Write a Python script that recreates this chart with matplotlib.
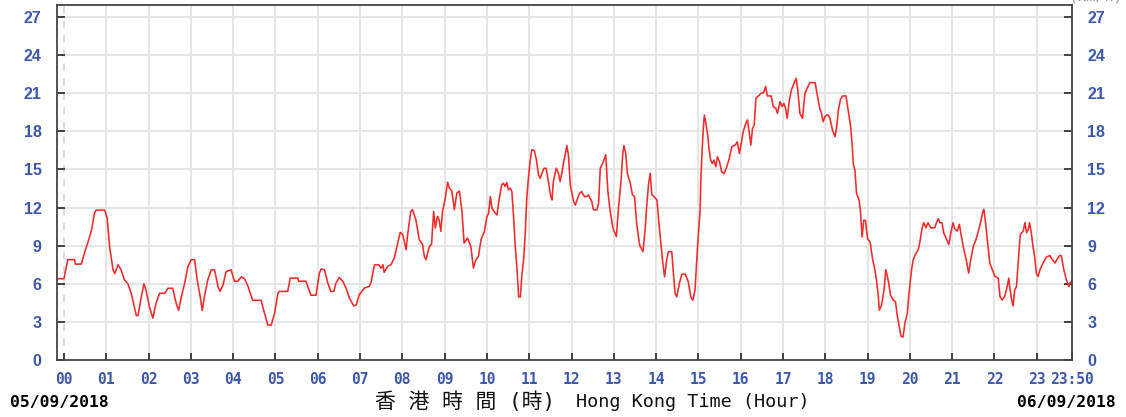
import matplotlib
matplotlib.use("Agg")
import matplotlib.pyplot as plt

# 10-min mean wind speed, Hong Kong, 05/09/2018 00:00 - 23:50
hours = [
    -0.17, 0.0, 0.09, 0.25, 0.27, 0.41, 0.49, 0.57, 0.65, 0.72, 0.76, 0.96, 1.02, 1.08, 1.16, 1.20,
    1.28, 1.35, 1.43, 1.51, 1.59, 1.71, 1.75, 1.83, 1.89, 1.94, 2.02, 2.10, 2.18, 2.26, 2.38, 2.46,
    2.57, 2.65, 2.71, 2.77, 2.85, 2.93, 3.01, 3.09, 3.15, 3.22, 3.27, 3.32, 3.40, 3.48, 3.56, 3.64,
    3.69, 3.76, 3.83, 3.95, 4.03, 4.11, 4.19, 4.27, 4.35, 4.46, 4.66, 4.74, 4.82, 4.90, 4.98,
    5.06, 5.09, 5.29, 5.35, 5.53, 5.55, 5.72, 5.84, 5.96, 6.04, 6.08, 6.16, 6.24, 6.31, 6.38, 6.43,
    6.51, 6.59, 6.67, 6.75, 6.85, 6.91, 6.98, 7.10, 7.22, 7.26, 7.34, 7.44, 7.50, 7.54, 7.57, 7.65,
    7.73, 7.81, 7.89, 7.95, 8.01, 8.09, 8.13, 8.20, 8.24, 8.32, 8.40, 8.48, 8.52, 8.56, 8.64, 8.69,
    8.74, 8.78, 8.83, 8.87, 8.91, 8.95, 9.01, 9.07, 9.11, 9.17, 9.23, 9.29, 9.35, 9.41, 9.46, 9.54,
    9.62, 9.68, 9.74, 9.80, 9.86, 9.94,
    10.0, 10.04, 10.08, 10.12, 10.20, 10.24, 10.28, 10.35, 10.39, 10.43, 10.47, 10.51, 10.55, 10.59,
    10.63, 10.67, 10.71, 10.75, 10.79, 10.83, 10.87, 10.91, 10.94, 10.98, 11.02, 11.06, 11.12, 11.17,
    11.22, 11.26, 11.30, 11.35, 11.40, 11.46, 11.51, 11.54, 11.57, 11.64, 11.69, 11.73, 11.77, 11.81,
    11.85, 11.89, 11.93, 11.97, 12.05, 12.09, 12.13, 12.19, 12.24, 12.30, 12.36, 12.40, 12.48, 12.52,
    12.60, 12.64, 12.68, 12.74, 12.81, 12.86, 12.91, 12.98, 13.06, 13.11, 13.17, 13.21, 13.24, 13.28,
    13.32, 13.39, 13.44, 13.49, 13.54, 13.61, 13.69, 13.74, 13.78, 13.82, 13.86, 13.90, 13.95, 14.02,
    14.07, 14.12, 14.16, 14.20, 14.25, 14.29, 14.37, 14.41, 14.45, 14.49, 14.55, 14.61, 14.69, 14.76,
    14.82, 14.87, 14.92, 14.98,
    15.04, 15.06, 15.09, 15.12, 15.14, 15.17, 15.22, 15.25, 15.29, 15.33, 15.37, 15.41, 15.45, 15.50,
    15.55, 15.61, 15.67, 15.73, 15.79, 15.87, 15.92, 15.97, 16.02, 16.06, 16.12, 16.16, 16.20, 16.24,
    16.28, 16.32, 16.36, 16.42, 16.48, 16.54, 16.59, 16.63, 16.72, 16.77, 16.83, 16.87, 16.93, 16.98,
    17.02, 17.06, 17.10, 17.15, 17.20, 17.26, 17.31, 17.35, 17.40, 17.46, 17.52, 17.57, 17.64, 17.76,
    17.81, 17.87, 17.91, 17.95, 17.99, 18.03, 18.07, 18.11, 18.17, 18.23, 18.27, 18.31, 18.36, 18.41,
    18.49, 18.54, 18.60, 18.64, 18.66, 18.70, 18.74, 18.80, 18.83, 18.87, 18.91, 18.95, 19.0, 19.06,
    19.12, 19.17, 19.21, 19.25, 19.28, 19.33, 19.39, 19.43, 19.46, 19.50, 19.54, 19.61, 19.66, 19.70,
    19.75, 19.79, 19.84, 19.88, 19.94, 19.98, 20.04, 20.08, 20.13, 20.20, 20.24, 20.29, 20.33, 20.38,
    20.43, 20.49, 20.59, 20.63, 20.67, 20.71, 20.76, 20.80, 20.87, 20.92, 20.97, 21.02, 21.06, 21.12,
    21.17, 21.20, 21.26, 21.34, 21.39, 21.44, 21.50, 21.55, 21.61, 21.67, 21.72, 21.75, 21.79, 21.83,
    21.89, 21.95, 22.01, 22.09, 22.13, 22.18, 22.24, 22.30, 22.34, 22.36, 22.40, 22.44, 22.48, 22.52,
    22.56, 22.61, 22.68, 22.72, 22.76, 22.80, 22.83, 22.87, 22.91, 22.95, 22.99, 23.03, 23.09, 23.15,
    23.23, 23.31, 23.36, 23.43, 23.48, 23.54, 23.58, 23.64, 23.70, 23.76, 23.78, 23.83,
]
speed = [
    6.4, 6.4, 7.9, 7.9, 7.55, 7.55, 8.5, 9.3, 10.2, 11.55, 11.8, 11.8, 11.2, 8.9, 7.1, 6.8,
    7.5, 7.1, 6.3, 6.0, 5.25, 3.5, 3.5, 5.0, 6.0, 5.5, 4.2, 3.3, 4.5, 5.25, 5.25, 5.65,
    5.65, 4.5, 3.9, 4.9, 6.0, 7.35, 7.9, 7.9, 6.3, 5.0, 3.9, 5.0, 6.3, 7.1, 7.1, 5.8,
    5.4, 5.9, 6.95, 7.1, 6.2, 6.2, 6.55, 6.4, 5.8, 4.7, 4.7, 3.7, 2.75, 2.75, 3.7,
    5.26, 5.4, 5.4, 6.45, 6.45, 6.2, 6.2, 5.1, 5.1, 6.85, 7.16, 7.1, 6.05, 5.4, 5.4, 6.05,
    6.5, 6.2, 5.66, 4.87, 4.26, 4.34, 5.13, 5.66, 5.8, 6.1, 7.5, 7.5, 7.24, 7.5, 6.9, 7.37,
    7.5, 8.03, 9.2, 10.05, 9.87, 8.68, 10.0, 11.7, 11.84, 11.05, 9.47, 9.08, 8.16, 7.9, 8.95, 9.08,
    11.7, 10.4, 11.3, 11.05, 10.13, 11.7, 12.63, 14.0, 13.55, 13.3, 11.84, 13.16, 13.3, 11.7, 9.2, 9.6,
    8.95, 7.24, 7.9, 8.16, 9.47, 10.13,
    11.29, 11.55, 12.87, 11.95, 11.55, 11.42, 12.47, 13.79, 13.92, 13.66, 13.97, 13.4, 13.53, 13.26,
    11.29, 8.92, 7.21, 4.97, 4.97, 6.8, 8.0, 10.24, 12.6, 14.3, 15.6, 16.55, 16.5, 15.76,
    14.58, 14.3, 14.7, 15.1, 15.1, 13.92, 12.87, 12.6, 14.05, 15.1, 14.7, 14.05, 14.7, 15.5,
    16.16, 16.87, 16.03, 13.79, 12.47, 12.2, 12.6, 13.13, 13.26, 12.87, 12.87, 13.0, 12.47, 11.82,
    11.82, 12.34, 15.1, 15.5, 16.16, 13.26, 11.82, 10.37, 9.71, 11.95, 14.05, 16.16, 16.87, 16.3,
    14.7, 13.92, 13.0, 12.87, 10.76, 9.05, 8.53, 10.24, 12.21, 13.79, 14.7, 13.0, 12.87, 12.6,
    10.63, 8.92, 7.6, 6.55, 7.87, 8.53, 8.53, 6.8, 5.24, 4.97, 6.03, 6.76, 6.76, 6.16,
    4.97, 4.71, 5.5, 8.92,
    11.79, 14.42, 16.66, 18.37, 19.29, 18.76, 17.71, 16.66, 15.74, 15.47, 15.74, 15.21, 16.0, 15.6,
    14.82, 14.68, 15.21, 15.87, 16.79, 16.92, 17.18, 16.26, 17.18, 17.97, 18.63, 18.9, 17.97, 16.92,
    18.24, 18.5, 20.6, 20.79, 21.0, 21.05, 21.53, 20.79, 20.79, 19.95, 19.82, 19.42, 20.34, 19.95,
    20.21, 19.82, 19.03, 20.47, 21.26, 21.79, 22.18, 21.26, 19.42, 19.03, 21.0, 21.39, 21.84, 21.84,
    20.87, 19.82, 19.42, 18.76, 19.16, 19.29, 19.29, 19.03, 18.1, 17.58, 18.37, 19.68, 20.53, 20.79,
    20.79, 19.68, 18.37, 16.79, 15.47, 14.95, 13.1, 12.58, 11.79, 9.68, 11.0, 11.0, 9.55, 9.29,
    7.9, 7.16, 6.31, 5.12, 3.93, 4.33, 5.52, 7.11, 6.71, 6.05, 5.12, 4.72, 4.59, 3.53,
    2.6, 1.87, 1.81, 2.87, 3.67, 5.25, 7.11, 7.9, 8.3, 8.7, 9.35, 10.41, 10.81, 10.41,
    10.81, 10.41, 10.41, 10.81, 11.13, 10.81, 10.81, 10.02, 9.49, 9.09, 10.02, 10.81, 10.33, 10.15,
    10.68, 10.07, 8.96, 7.77, 6.84, 7.9, 8.96, 9.35, 10.02, 10.81, 11.6, 11.87, 10.81, 9.49,
    7.63, 7.11, 6.58, 6.44, 4.99, 4.72, 4.99, 5.78, 6.44, 5.78, 4.86, 4.25, 5.52, 5.78,
    7.63, 9.88, 10.15, 10.81, 10.02, 10.28, 10.81, 10.02, 8.96, 8.16, 6.84, 6.58, 7.24, 7.63,
    8.11, 8.22, 7.95, 7.63, 7.95, 8.22, 8.22, 7.11, 6.31, 5.78, 6.05, 6.2,
]

x_ticks = list(range(24)) + [23 + 50 / 60]
x_labels = [f"{h:02d}" for h in range(24)] + ["23:50"]
y_ticks = list(range(0, 28, 3))

BLUE = "#3d57ad"
MONO = "DejaVu Sans Mono"

fig = plt.figure(figsize=(11.26, 4.17), dpi=100)
ax = fig.add_axes([57 / 1126, 1 - 360 / 417, (1072 - 57) / 1126, 355 / 417])

ax.plot(hours, speed, color="#f42a2a", lw=1.15)

ax.set_xlim(-0.165, 23 + 50 / 60)
ax.set_ylim(0, 27.95)

# grid
for h in range(1, 24):
    ax.axvline(h, color="#e4e4e4", lw=1.3, zorder=0)
ax.axvline(0, color="#d8d8d8", lw=1.3, ls=(0, (4, 4)), zorder=0)
for v in y_ticks[1:]:
    ax.axhline(v, color="#e4e4e4", lw=1.3, zorder=0)

for s in ax.spines.values():
    s.set_color("#444444")
    s.set_linewidth(1.3)

ax.set_xticks(x_ticks)
ax.set_xticklabels(x_labels, fontfamily=MONO, fontweight="bold",
                   fontsize=10.5, color=BLUE)
ax.tick_params(axis="x", direction="in", length=5, width=1.3, color="#333333", pad=9)

ax.set_yticks(y_ticks)
ax.tick_params(axis="y", direction="in", length=6, width=1.3, color="#333333",
               left=True, right=True, labelleft=True, labelright=True, pad=11)
for t in ax.yaxis.get_major_ticks():
    for lab in (t.label1, t.label2):
        lab.set_fontfamily("Liberation Sans")
        lab.set_fontweight("bold")
        lab.set_fontsize(11.5)
        lab.set_color(BLUE)

fig.text(10 / 1126, 1 - 403 / 417, "05/09/2018", fontfamily=MONO,
         fontweight="bold", fontsize=11.8, color="black", va="center", ha="left")
fig.text(1116 / 1126, 1 - 403 / 417, "06/09/2018", fontfamily=MONO,
         fontweight="bold", fontsize=11.8, color="black", va="center", ha="right")
fig.text(375 / 1126, 1 - 402 / 417, "香 港 時 間 (時)",
         fontfamily=[MONO, "Noto Sans CJK TC"], fontsize=15,
         color="#111111", va="center", ha="left")
fig.text(576 / 1126, 1 - 402 / 417, "Hong Kong Time (Hour)",
         fontfamily=MONO, fontsize=13.3, color="#111111", va="center", ha="left")
fig.text(1124 / 1126, 1 + 4 / 417, "(km/h)", fontfamily=MONO, fontsize=11,
         color="#999999", va="center", ha="right")

fig.savefig("out.png", dpi=100)
